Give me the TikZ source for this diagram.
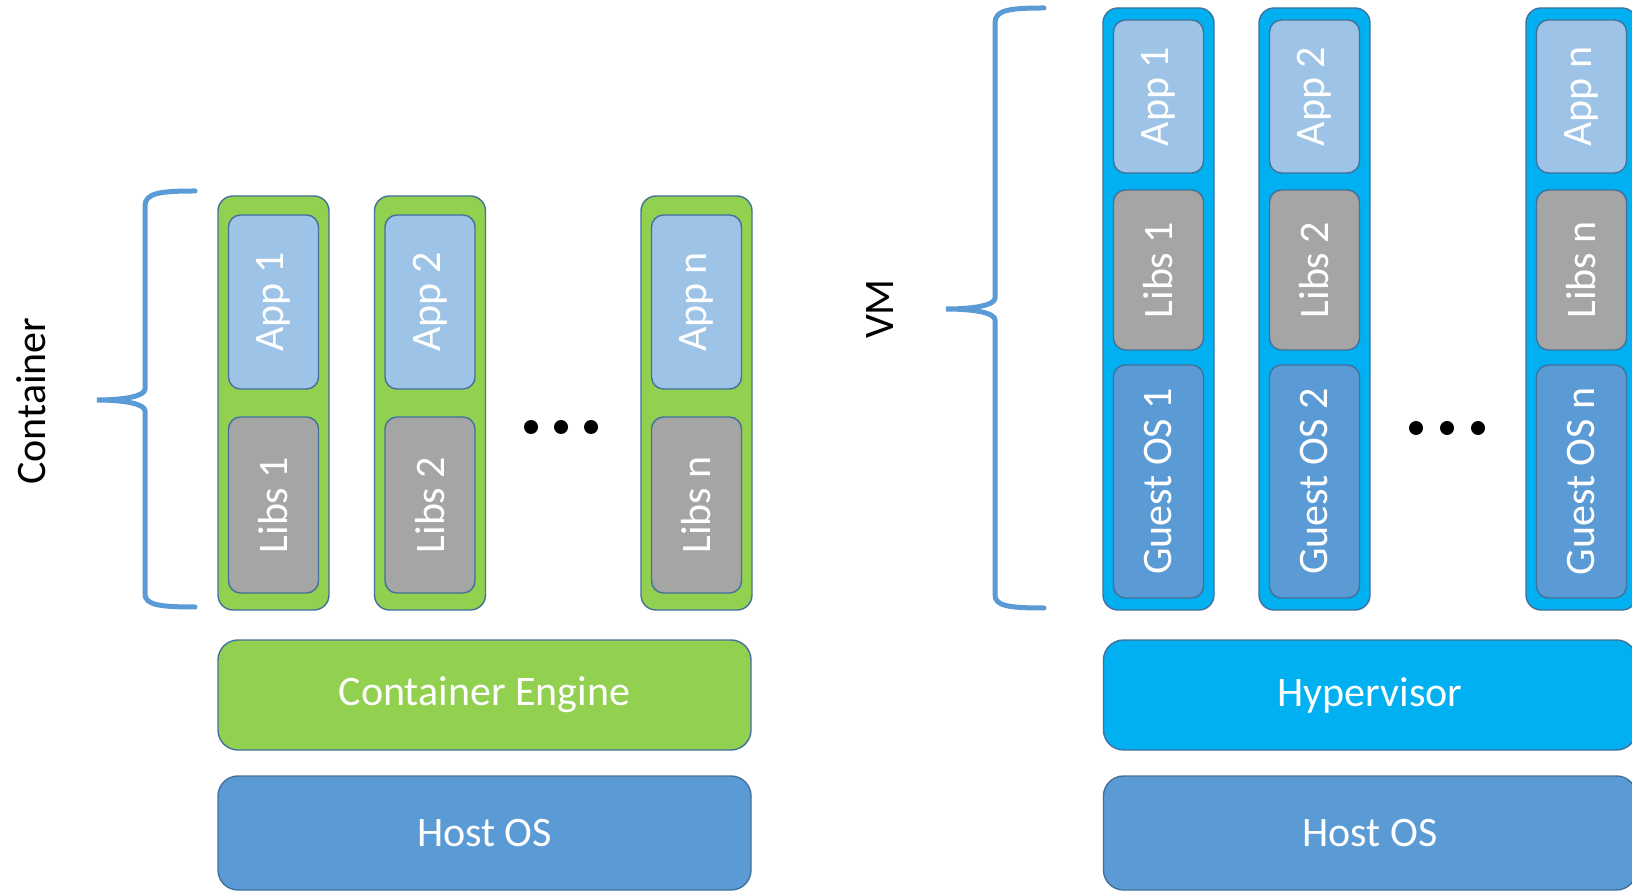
\documentclass[tikz,border=0pt]{standalone}
\usepackage{fontspec}
\setmainfont{Carlito}

\definecolor{cgreen}{HTML}{92D050}
\definecolor{edge}{HTML}{41719C}
\definecolor{appblue}{HTML}{9DC3E6}
\definecolor{libgray}{HTML}{A5A5A5}
\definecolor{osblue}{HTML}{5B9BD5}
\definecolor{vmcyan}{HTML}{00B0F0}

\begin{document}
\begin{tikzpicture}[x=0.5pt,y=-0.5pt]

\tikzstyle{blk}=[draw=edge, line width=0.7pt, text=white, inner sep=0pt, font=\fontsize{21}{25}\selectfont]
\tikzstyle{layer}=[blk, rounded corners=10pt, minimum width=266.5pt]
\tikzstyle{cbox}=[blk, fill=cgreen, rounded corners=7.5pt, minimum width=55.5pt, minimum height=207pt]
\tikzstyle{vbox}=[blk, fill=vmcyan, rounded corners=7.5pt, minimum width=55.5pt, minimum height=301pt]
\tikzstyle{part}=[blk, rotate=90, rounded corners=6pt, minimum height=45pt]
\tikzstyle{capp}=[part, fill=appblue, minimum width=87pt]
\tikzstyle{clibs}=[part, fill=libgray, minimum width=88pt]
\tikzstyle{vapp}=[part, fill=appblue, minimum width=76.5pt]
\tikzstyle{vlibs}=[part, fill=libgray, minimum width=80pt]
\tikzstyle{vguest}=[part, fill=osblue, minimum width=116.5pt]
\tikzstyle{dot}=[circle, fill=black, minimum size=7pt, inner sep=0pt]
\tikzstyle{label}=[rotate=90, font=\fontsize{21}{25}\selectfont]
\tikzstyle{brace}=[line width=2.5pt, draw=osblue, line cap=round]

\useasboundingbox (0,0) rectangle (1632,892);

% container side
\node[cbox] (c1) at (273.5,403) {};
\node[cbox, right of=c1, node distance=78.25pt] (c2) {};
\node[cbox, right of=c2, node distance=133.25pt] (c3) {};

\node[above of=c1, node distance=50.5pt, capp] (capp1) {App 1};
\node[below of=c1, node distance=51pt, clibs] (clibs1) {Libs 1};
\node[above of=c2, node distance=50.5pt, capp] (capp2) {App 2};
\node[below of=c2, node distance=51pt, clibs] (clibs2) {Libs 2};
\node[above of=c3, node distance=50.5pt, capp] (capp3) {App n};
\node[below of=c3, node distance=51pt, clibs] (clibs3) {Libs n};

\node[dot] (cdot1) at (531,427) {};
\node[dot, right of=cdot1, node distance=15pt] (cdot2) {};
\node[dot, right of=cdot2, node distance=15pt] (cdot3) {};

\node[layer, fill=cgreen, minimum height=55pt] (engine) at (484.5,695) {Container Engine};
\node[layer, fill=osblue, minimum height=57pt, below of=engine, node distance=69pt] (chost) {Host OS};

\node[label] (lblc) at (31,401) {Container};
\draw[brace] (195,191) .. controls (160,191) and (145,193) .. (145,206) -- (145,389)
  .. controls (145,396) and (125,400) .. (97,400)
  .. controls (125,400) and (145,404) .. (145,411) -- (145,594)
  .. controls (145,605) and (160,607) .. (195,607);

% vm side
\node[vbox] (vm1) at (1158.5,309) {};
\node[vbox, right of=vm1, node distance=78pt] (vm2) {};
\node[vbox, right of=vm2, node distance=133.5pt] (vm3) {};

\node[above of=vm1, node distance=106.25pt, vapp] (vapp1) {App 1};
\node[above of=vm1, node distance=19.5pt, vlibs] (vlibs1) {Libs 1};
\node[below of=vm1, node distance=86.25pt, vguest] (guest1) {Guest OS 1};
\node[above of=vm2, node distance=106.25pt, vapp] (vapp2) {App 2};
\node[above of=vm2, node distance=19.5pt, vlibs] (vlibs2) {Libs 2};
\node[below of=vm2, node distance=86.25pt, vguest] (guest2) {Guest OS 2};
\node[above of=vm3, node distance=106.25pt, vapp] (vapp3) {App n};
\node[above of=vm3, node distance=19.5pt, vlibs] (vlibs3) {Libs n};
\node[below of=vm3, node distance=86.25pt, vguest] (guest3) {Guest OS n};

\node[dot] (vdot1) at (1416,428) {};
\node[dot, right of=vdot1, node distance=15.5pt] (vdot2) {};
\node[dot, right of=vdot2, node distance=15.5pt] (vdot3) {};

\node[layer, fill=vmcyan, minimum height=55pt] (hyper) at (1370,695) {Hypervisor};
\node[layer, fill=osblue, minimum height=57pt, below of=hyper, node distance=69pt] (vhost) {Host OS};

\node[label] (lblvm) at (880,309) {VM};
\draw[brace] (1044,8) .. controls (1009,8) and (995,10) .. (995,23) -- (995,298)
  .. controls (995,305) and (975,309) .. (946,309)
  .. controls (975,309) and (995,313) .. (995,320) -- (995,595)
  .. controls (995,606) and (1009,608) .. (1044,608);

\end{tikzpicture}
\end{document}
